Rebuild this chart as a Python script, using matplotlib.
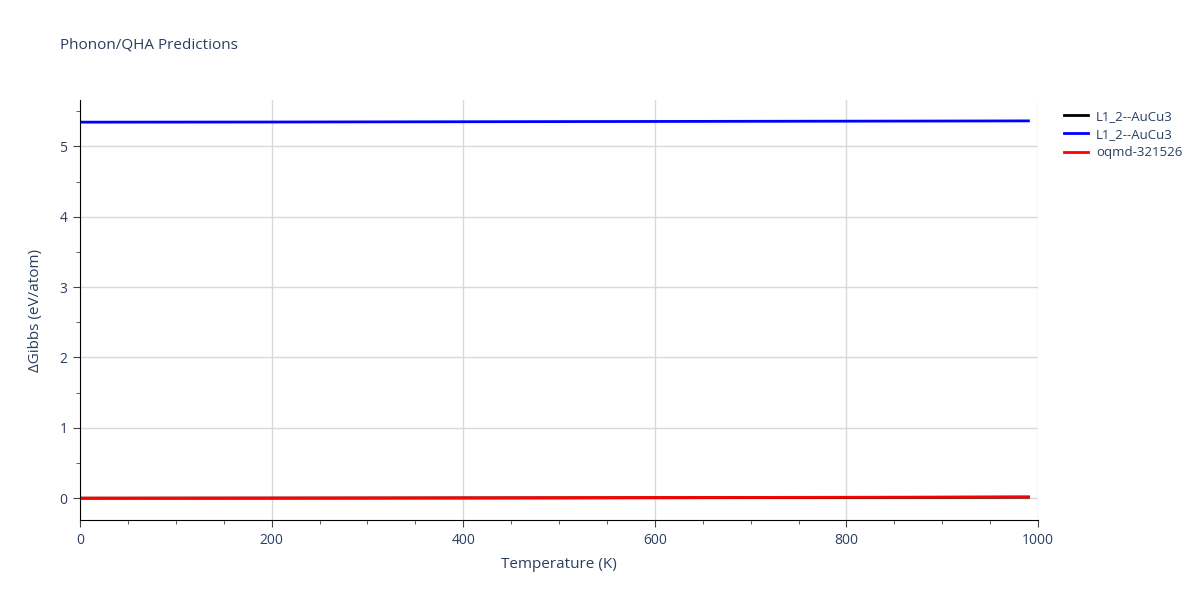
import matplotlib
matplotlib.use("Agg")
import matplotlib.pyplot as plt
from matplotlib.ticker import MultipleLocator

plt.rcParams['font.family'] = ['Open Sans', 'DejaVu Sans']

temps = [0, 100, 200, 300, 400, 500, 600, 700, 800, 900, 990]
black_vals = [0.0, 0.0005, 0.001, 0.002, 0.003, 0.004, 0.006, 0.008, 0.010, 0.012, 0.014]
blue_vals = [5.345, 5.346, 5.347, 5.349, 5.351, 5.353, 5.355, 5.357, 5.359, 5.361, 5.363]
red_vals = [0.0, 0.001, 0.002, 0.003, 0.005, 0.007, 0.009, 0.011, 0.013, 0.016, 0.019]
labels = ['L1_2--AuCu3', 'L1_2--AuCu3', 'oqmd-321526']
colors = ['black', 'blue', 'red']

text_color = '#2a3f5f'
fig = plt.figure(figsize=(12, 6), dpi=100)
ax = fig.add_axes([80/1200, 1-520/600, (1038-80)/1200, 420/600])

for vals, lab, col in zip([black_vals, blue_vals, red_vals], labels, colors):
    ax.plot(temps, vals, color=col, lw=2, label=lab)

ax.set_xlim(0, 1000)
ax.set_ylim(-0.31, 5.66)
ax.xaxis.set_major_locator(MultipleLocator(200))
ax.xaxis.set_minor_locator(MultipleLocator(50))
ax.yaxis.set_major_locator(MultipleLocator(1))
ax.yaxis.set_minor_locator(MultipleLocator(0.5))
ax.grid(True, which='major', color='#d9d9d9', lw=1)
ax.set_axisbelow(True)
for s in ['top', 'right']:
    ax.spines[s].set_visible(False)
for s in ['left', 'bottom']:
    ax.spines[s].set_color('black')
ax.tick_params(which='major', direction='out', length=5, color='#444444', labelsize=10, labelcolor=text_color, pad=4)
ax.tick_params(which='minor', direction='out', length=3, color='#444444')
ax.set_xlabel('Temperature (K)', fontsize=11, color=text_color, labelpad=7)
ax.set_ylabel('ΔGibbs (eV/atom)', fontsize=11, color=text_color, labelpad=12)

fig.text(60/1200, 1-45/600, 'Phonon/QHA Predictions', fontsize=11, color=text_color, va='center')

leg = ax.legend(loc='upper left', bbox_to_anchor=(1.015, 1.005), frameon=False, fontsize=9.5,
                handlelength=1.8, handletextpad=0.6, labelspacing=0.4)
for t in leg.get_texts():
    t.set_color(text_color)

fig.savefig('out.png', dpi=100)
